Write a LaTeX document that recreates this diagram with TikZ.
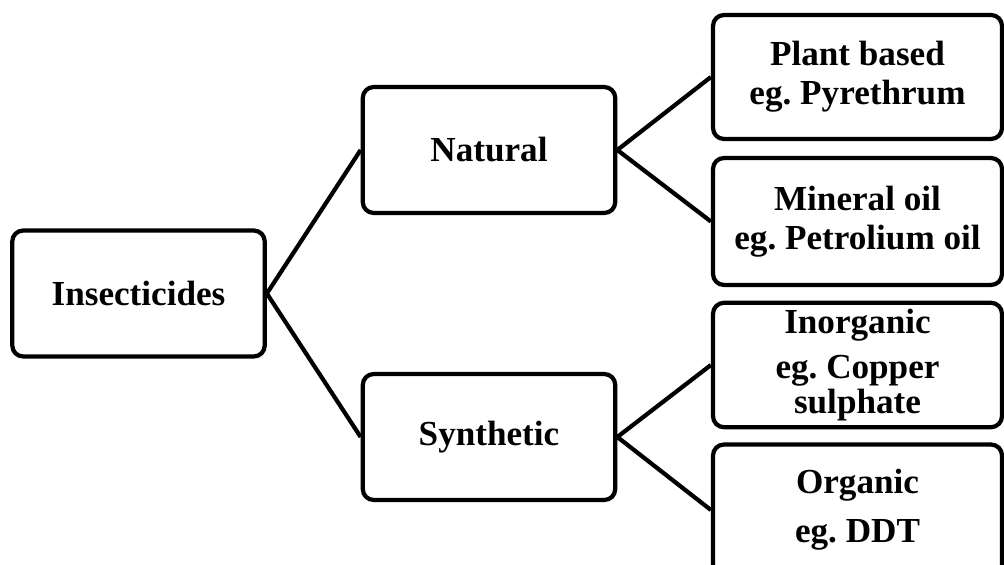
\documentclass[tikz,border=0pt]{standalone}
\usepackage{fontspec}
\setmainfont{Liberation Serif}
\usepackage{tikz}

\begin{document}
\begin{tikzpicture}[
    group/.style={draw, line width=2.4pt, rounded corners=0.22cm, minimum width=5.05cm, minimum height=2.52cm, text centered, align=center, font=\fontsize{20}{20}\selectfont\bfseries\frenchspacing},
    kind/.style={group, minimum width=5.78cm, minimum height=2.48cm},
    link/.style={line width=2.4pt}
]
\useasboundingbox (0,0) rectangle (20.08,11.28);
\clip (0,0) rectangle (20.08,11.28);

\node[group] (insect) at (2.77,5.41) {Insecticides};
\node[group] (natural) at (9.78,8.28) {Natural};
\node[group] (synthetic) at (9.78,2.54) {Synthetic};

\node[kind] (plant) at (17.15,9.74) {Plant based\\[2pt]eg. Pyrethrum};
\node[kind, minimum height=2.54cm] (mineral) at (17.15,6.85) {Mineral oil\\[2pt]eg. Petrolium oil};
\node[kind] (inorganic) at (17.15,3.98) {Inorganic\\[6pt]eg. Copper\\sulphate};
\node[kind, minimum height=2.62cm] (organic) at (17.15,1.08) {Organic\\[8pt]eg. DDT};

\draw[link] (insect.east) -- (natural.west);
\draw[link] (insect.east) -- (synthetic.west);
\draw[link] (natural.east) -- (plant.west);
\draw[link] (natural.east) -- (mineral.west);
\draw[link] (synthetic.east) -- (inorganic.west);
\draw[link] (synthetic.east) -- (organic.west);

\end{tikzpicture}
\end{document}
